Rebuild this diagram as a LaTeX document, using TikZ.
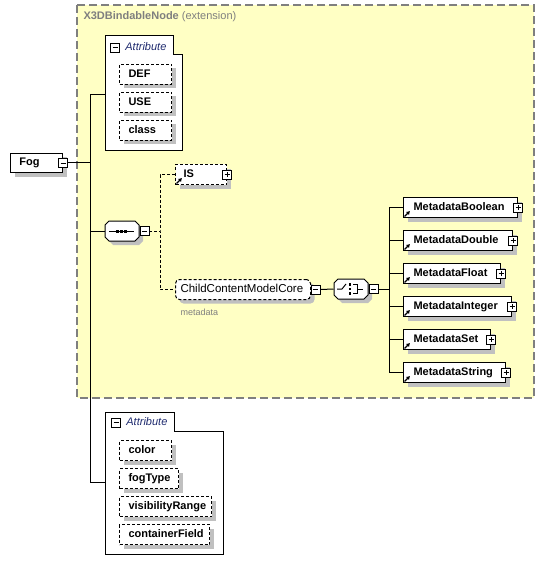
\documentclass[tikz,border=0pt]{standalone}
\usepackage{fontspec}
\setmainfont{Liberation Sans}
\usetikzlibrary{arrows.meta,shadows,positioning}

\definecolor{extyellow}{HTML}{FFFFC4}
\definecolor{extgray}{HTML}{7F7F7F}
\definecolor{shadowgray}{HTML}{C0C0C0}
\definecolor{attrblue}{HTML}{1F2B6F}

\newcommand\elemfont{\fontsize{11}{13}\selectfont\bfseries}
% octagon outline of a compositor, centred at (#1,#2)
\newcommand\octpath[2]{(#1-13,#2-10) -- (#1+13,#2-10) -- (#1+17,#2-6) -- (#1+17,#2+6) -- (#1+13,#2+10)
  -- (#1-13,#2+10) -- (#1-17,#2+6) -- (#1-17,#2-6) -- cycle}

\tikzset{
  elemshadow/.style={drop shadow={shadow xshift=4pt, shadow yshift=-4pt, fill=shadowgray, opacity=1}},
  elem/.style={draw, fill=white, line width=1pt, elemshadow, anchor=north west,
    minimum height=20pt, inner ysep=0pt, inner xsep=9pt, text height=8pt, text depth=2.5pt,
    align=left, font=\elemfont},
  optional/.style={dash pattern=on 3pt off 2pt},
  attr/.style={elem, optional},
  pmbox/.style={draw, fill=white, line width=0.8pt, minimum size=9pt, inner sep=0pt},
  minusbox/.style={pmbox, path picture={
      \draw[line width=0.8pt] ([xshift=2pt]path picture bounding box.west) -- ([xshift=-2pt]path picture bounding box.east);}},
  plusbox/.style={pmbox, path picture={
      \draw[line width=0.8pt] ([xshift=2pt]path picture bounding box.west) -- ([xshift=-2pt]path picture bounding box.east)
        ([yshift=2pt]path picture bounding box.south) -- ([yshift=-2pt]path picture bounding box.north);}},
  compositor/.style={minimum width=34pt, minimum height=20pt, inner sep=0pt},
  refarrow/.style={-{Latex[length=3.5pt,width=4.5pt]}, line width=1.2pt},
  attrhead/.style={inner sep=0pt, text height=8pt, text depth=2.5pt, text=attrblue,
    font=\fontsize{11}{13}\selectfont\itshape},
}

\begin{document}
\begin{tikzpicture}[x=1pt, y=-1pt, line width=1pt]
\useasboundingbox (0,0) rectangle (545,572);

% Extension area of the base type
\draw[extgray, line width=1.2pt, dash pattern=on 8pt off 4pt, fill=extyellow] (77,5) rectangle (534,398);
\node[anchor=west, inner sep=0pt, text=extgray, font=\fontsize{11}{13}\selectfont] (ext) at (83,17)
  {\textbf{X3DBindableNode} (extension)};

% Inherited attributes
\draw[fill=white] (105,36) -- (173,36) -- (173,55) -- (182,55) -- (182,151) -- (105,151) -- cycle;
\node[minusbox] (attrAm) at (115,47.5) {};
\node[attrhead, right=5pt of attrAm] (attrAhd) {Attribute};
\node[attr, text width=34pt] (def) at (119,64) {DEF};
\node[attr, text width=34pt] (use) at (119,92) {USE};
\node[attr, text width=34pt] (class) at (119,120) {class};

% Root element
\node[elem, text width=34pt, minimum height=19pt] (fog) at (10,153) {Fog};
\node[minusbox] (fogm) at (fog.east) {};

% Trunk to the content of Fog
\coordinate (trunktop) at (90,95);
\coordinate (trunkbot) at (90,482);
\coordinate (attrAin) at (105,95);
\coordinate (attrBin) at (105,482);
\draw (fogm.east) -- (fogm.east -| trunktop);
\draw (attrAin) -- (trunktop) -- (trunkbot) -- (attrBin);

% Sequence
\fill[shadowgray] \octpath{126}{235};
\draw[fill=white] \octpath{122}{231};
\node[compositor] (seq) at (122,231) {};
\node[minusbox, anchor=west] (seqm) at (seq.east) {};
\draw (seq.west) -- (seq.west -| trunktop);
\draw (109,231) -- (134,231);
\foreach \x in {117,121,125}
  \fill (\x-1.5,229.5) rectangle (\x+1.5,232.5);

% Optional children of the sequence
\node[elem, optional, text width=35pt, inner xsep=8pt] (is) at (175,164) {IS};
\node[plusbox] (is-p) at (is.east) {};
\draw[refarrow] ([xshift=1.5pt,yshift=1.5pt]is.south west) -- ++(5.5pt,5.5pt);

\node[elem, optional, rounded corners=4pt, font=\fontsize{11.5}{13}\selectfont,
  text width=125pt, inner xsep=5pt] (ccm) at (175,279) {ChildContentModelCore};
\node[minusbox, anchor=west] (ccm-m) at (ccm.east) {};
\node[anchor=base west, inner sep=0pt, text=extgray, font=\fontsize{9}{11}\selectfont] (ccmlbl) at (180,315) {metadata};

\coordinate (seqfork) at (160,231);
\draw[optional] (seqm.east) -- (seqfork);
\draw[optional] (is.west) -| (seqfork) |- (ccm.west);

% Choice
\fill[shadowgray] \octpath{355}{293};
\draw[fill=white] \octpath{351}{289};
\node[compositor] (choice) at (351,289) {};
\node[minusbox, anchor=west] (choicem) at (choice.east) {};
\draw (ccm-m.east) -- (choice.west);
\draw (337,289) -- (342,289) -- (346,284);
\foreach \y in {284.5,289,293.5}
  \fill (348.8,\y-1.3) rectangle (351.4,\y+1.3);
\draw (353,284.5) -- (357,284.5) -- (357,293.5) -- (353,293.5);
\draw (357,289) -- (363,289);
\coordinate (chfork) at (389,289);
\draw (choicem.east) -- (chfork);

% Metadata elements
\foreach \n/\tw/\lbl [count=\i from 0] in {mbool/94pt/MetadataBoolean, mdouble/89pt/MetadataDouble,
    mfloat/77pt/MetadataFloat, mint/88pt/MetadataInteger, mset/67pt/MetadataSet, mstring/82pt/MetadataString} {
  \node[elem, text width=\tw, inner xsep=10pt] (\n) at (403,197+33*\i) {\lbl};
  \node[plusbox] (\n-p) at (\n.east) {};
  \draw[refarrow] ([xshift=1.5pt,yshift=1.5pt]\n.south west) -- ++(5.5pt,5.5pt);
  \draw (chfork) |- (\n.west);
}

% Fog's own attributes
\draw[fill=white] (105,412) -- (174,412) -- (174,431) -- (223,431) -- (223,554) -- (105,554) -- cycle;
\node[minusbox] (attrBm) at (116,422.5) {};
\node[attrhead, right=5pt of attrBm] (attrBhd) {Attribute};
\node[attr, text width=34pt] (attcolor) at (119,440) {color};
\node[attr, text width=41pt] (fogtype) at (119,468) {fogType};
\node[attr, text width=74pt] (visrange) at (119,496) {visibilityRange};
\node[attr, text width=72pt] (cfield) at (119,524) {containerField};

\end{tikzpicture}
\end{document}
